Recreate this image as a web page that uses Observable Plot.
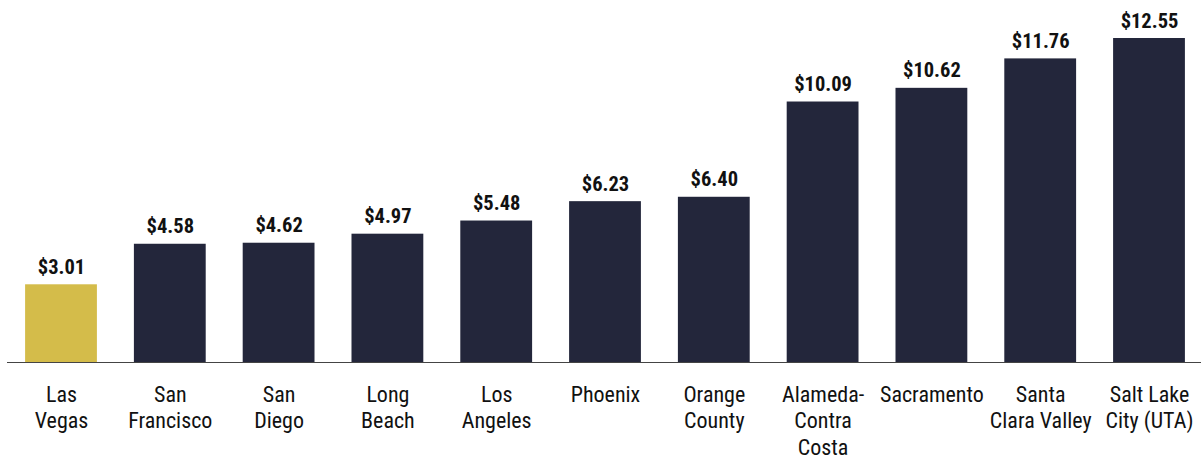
<!DOCTYPE html>
<html>
<head>
<meta charset="utf-8">
<script src="https://cdn.jsdelivr.net/npm/d3@7"></script>
<script src="https://cdn.jsdelivr.net/npm/@observablehq/plot@0.6"></script>
<style>
  html, body { margin: 0; padding: 0; background: #ffffff; }
  #chart svg { display: block; }
</style>
</head>
<body>
<div id="chart"></div>
<script>
const cities = ["Las Vegas", "San Francisco", "San Diego", "Long Beach", "Los Angeles", "Phoenix", "Orange County", "Alameda-Contra Costa", "Sacramento", "Santa Clara Valley", "Salt Lake City (UTA)"];
const labels = ["Las\nVegas", "San\nFrancisco", "San\nDiego", "Long\nBeach", "Los\nAngeles", "Phoenix", "Orange\nCounty", "Alameda-\nContra\nCosta", "Sacramento", "Santa\nClara Valley", "Salt Lake\nCity (UTA)"];
const values = [3.01, 4.58, 4.62, 4.97, 5.48, 6.23, 6.40, 10.09, 10.62, 11.76, 12.55];
const highlight = "Las Vegas";

const data = cities.map((c, i) => ({city: c, label: labels[i], value: values[i]}));
const font = "'Liberation Sans Narrow', 'Roboto Condensed', Roboto, sans-serif";

const chart = Plot.plot({
  width: 1201,
  height: 459,
  marginTop: 38,
  marginBottom: 97,
  marginLeft: 7,
  marginRight: 0,
  style: {fontFamily: font, background: "#ffffff"},
  x: {domain: cities, range: [6.6, 1203.4], paddingInner: 0.34, paddingOuter: 0.17, round: false, axis: null},
  y: {domain: [0, 12.55], axis: null},
  marks: [
    Plot.barY(data, {x: "city", y: "value", fill: d => d.city === highlight ? "#d4bc4a" : "#23263b"}),
    Plot.ruleY([0], {stroke: "#444", strokeWidth: 1.2}),
    Plot.text(data, {x: "city", y: "value", text: d => "$" + d.value.toFixed(2), lineAnchor: "bottom", dy: -11, fontSize: 20.5, fontWeight: "bold", fill: "#111"}),
    Plot.text(data, {x: "city", y: 0, text: "label", lineAnchor: "top", dy: 20.5, fontSize: 22, lineHeight: 1.2, fill: "#111"})
  ]
});
document.getElementById("chart").appendChild(chart);
</script>
</body>
</html>
